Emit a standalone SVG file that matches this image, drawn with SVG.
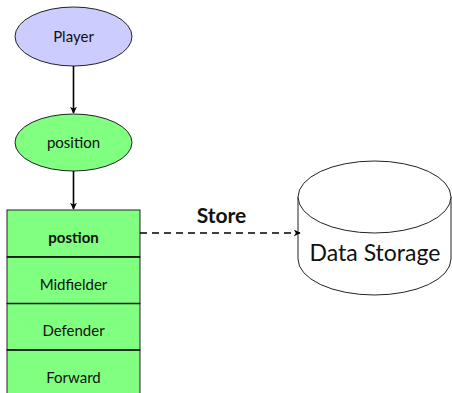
<svg xmlns="http://www.w3.org/2000/svg" width="452" height="393" viewBox="0 0 452 393">
  <style>
    text { font-family: "Lato", "Liberation Sans", sans-serif; fill: #111; text-anchor: middle; }
    .node { stroke: #222; stroke-width: 1; }
    .small { font-size: 15px; }
    .bold { font-weight: bold; }
    .edge { stroke: #000; stroke-width: 1.6; fill: none; }
  </style>
  <defs>
    <marker id="arrow" viewBox="0 0 10 10" refX="9" refY="5" markerWidth="7" markerHeight="7" orient="auto" markerUnits="userSpaceOnUse">
      <path d="M0,0 L10,5 L0,10 L3,5 Z" fill="#000"/>
    </marker>
  </defs>

  <g id="player">
    <ellipse class="node" cx="73.5" cy="36.5" rx="58.5" ry="29.5" fill="#ccccff"/>
    <text class="small" x="73.5" y="41.5">Player</text>
  </g>

  <g id="position">
    <ellipse class="node" cx="73.5" cy="142.5" rx="58.5" ry="28.5" fill="#80ff80"/>
    <text class="small" x="73.5" y="147.5">position</text>
  </g>

  <g id="position-table">
    <rect class="node" x="7" y="210" width="133" height="47" fill="#80ff80"/>
    <rect class="node" x="7" y="257" width="133" height="46.5" fill="#80ff80"/>
    <rect class="node" x="7" y="303.5" width="133" height="46.5" fill="#80ff80"/>
    <rect class="node" x="7" y="350" width="133" height="47" fill="#80ff80"/>
    <line x1="7" y1="257" x2="140" y2="257" stroke="#111" stroke-width="1.6"/>
    <line x1="7" y1="303.5" x2="140" y2="303.5" stroke="#111" stroke-width="1.6"/>
    <line x1="7" y1="350" x2="140" y2="350" stroke="#111" stroke-width="1.6"/>
    <text class="small bold" x="73.5" y="242.5">postion</text>
    <text class="small" x="73.5" y="289.5">Midfielder</text>
    <text class="small" x="73.5" y="335.5">Defender</text>
    <text class="small" x="73.5" y="382.5">Forward</text>
  </g>

  <g id="data-storage">
    <path class="node" d="M298,197 L298,259 A76.5,36 0 0 0 451,259 L451,197" fill="#fff"/>
    <ellipse class="node" cx="374.5" cy="197" rx="76.5" ry="36" fill="#fff"/>
    <text x="375" y="261" font-size="23">Data Storage</text>
  </g>

  <g id="connectors">
    <line class="edge" x1="73.5" y1="66" x2="73.5" y2="113" marker-end="url(#arrow)"/>
    <line class="edge" x1="73.5" y1="171" x2="73.5" y2="209" marker-end="url(#arrow)"/>
    <line class="edge" x1="140" y1="233" x2="300" y2="233" stroke-dasharray="7,5" marker-end="url(#arrow)"/>
    <text class="bold" x="221.5" y="223" font-size="21">Store</text>
  </g>
</svg>
